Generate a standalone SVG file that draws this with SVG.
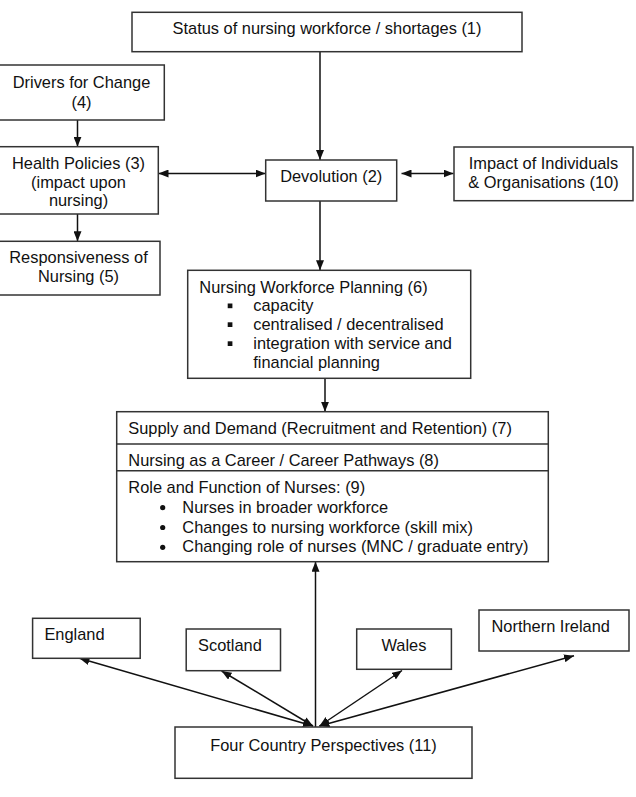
<svg xmlns="http://www.w3.org/2000/svg" width="636" height="797" viewBox="0 0 636 797">
<style>
.box{fill:#fff;stroke:#333;stroke-width:1.5}
.t{font-family:"Liberation Sans",Arial,sans-serif;font-size:16.4px;fill:#111}
.c{text-anchor:middle}
.conn{stroke:#111;stroke-width:1.5;fill:none}
.end{marker-end:url(#ah)}
.both{marker-end:url(#ah);marker-start:url(#ah)}
.sq{fill:#111}
</style>
<defs>
<marker id="ah" viewBox="0 0 10 8" refX="10" refY="4" markerWidth="10" markerHeight="8" markerUnits="userSpaceOnUse" orient="auto-start-reverse">
<path d="M0,0 L10,4 L0,8 z" fill="#111"/>
</marker>
</defs>
<rect width="636" height="797" fill="#fff"/>

<g id="connectors">
<line class="conn end" x1="320" y1="52" x2="320" y2="160"/>
<line class="conn end" x1="77.5" y1="120" x2="77.5" y2="146.7"/>
<line class="conn end" x1="77.5" y1="214" x2="77.5" y2="241.3"/>
<line class="conn both" x1="158.5" y1="173.5" x2="265.5" y2="173.5"/>
<line class="conn both" x1="401.5" y1="173.5" x2="453.5" y2="173.5"/>
<line class="conn end" x1="320" y1="201" x2="320" y2="270.3"/>
<line class="conn end" x1="325" y1="378.3" x2="325" y2="411.7"/>
<line class="conn end" x1="315.5" y1="727" x2="315.5" y2="561.7"/>
<line class="conn both" x1="313" y1="726" x2="79.5" y2="658.3"/>
<line class="conn both" x1="313" y1="726" x2="221.6" y2="671"/>
<line class="conn both" x1="319.5" y1="726" x2="402" y2="670.5"/>
<line class="conn both" x1="319.5" y1="726" x2="574" y2="655.7"/>
</g>

<g id="n1">
<rect class="box" x="132" y="12.3" width="390" height="39.4"/>
<text class="t c" x="327" y="34.3">Status of nursing workforce / shortages (1)</text>
</g>

<g id="n4">
<rect class="box" x="-1" y="65" width="165.3" height="55"/>
<text class="t c" x="81.5" y="87.7">Drivers for Change</text>
<text class="t c" x="81.5" y="107.5">(4)</text>
</g>

<g id="n3">
<rect class="box" x="-1" y="146.7" width="159.3" height="67.3"/>
<text class="t c" x="78.5" y="169">Health Policies (3)</text>
<text class="t c" x="78.5" y="187.6">(impact upon</text>
<text class="t c" x="78.5" y="206">nursing)</text>
</g>

<g id="n5">
<rect class="box" x="-1" y="241.3" width="161" height="53.7"/>
<text class="t c" x="78.5" y="263.3">Responsiveness of</text>
<text class="t c" x="78.5" y="281.8">Nursing (5)</text>
</g>

<g id="n2">
<rect class="box" x="265.7" y="160" width="131" height="41"/>
<text class="t c" x="331.2" y="181.5">Devolution (2)</text>
</g>

<g id="n10">
<rect class="box" x="454" y="147" width="179" height="53.7"/>
<text class="t c" x="543.5" y="169">Impact of Individuals</text>
<text class="t c" x="543.5" y="188">&amp; Organisations (10)</text>
</g>

<g id="n6">
<rect class="box" x="187.7" y="270.3" width="283" height="108"/>
<text class="t" x="199.3" y="292.6">Nursing Workforce Planning (6)</text>
<rect class="sq" x="227.7" y="303.5" width="4.7" height="4.7"/>
<text class="t" x="253.3" y="311">capacity</text>
<rect class="sq" x="227.7" y="322.3" width="4.7" height="4.7"/>
<text class="t" x="253.3" y="329.8">centralised / decentralised</text>
<rect class="sq" x="227.7" y="341.3" width="4.7" height="4.7"/>
<text class="t" x="253.3" y="348.8">integration with service and</text>
<text class="t" x="253.3" y="367.5">financial planning</text>
</g>

<g id="n7-9">
<rect class="box" x="116.7" y="411.7" width="431.6" height="150"/>
<line x1="116.7" y1="444" x2="548.3" y2="444" stroke="#333" stroke-width="1.5"/>
<line x1="116.7" y1="470.7" x2="548.3" y2="470.7" stroke="#333" stroke-width="1.5"/>
<text class="t" x="128.3" y="434">Supply and Demand (Recruitment and Retention) (7)</text>
<text class="t" x="128.3" y="465.6">Nursing as a Career / Career Pathways (8)</text>
<text class="t" x="128.3" y="492.7">Role and Function of Nurses: (9)</text>
<circle class="sq" cx="162.7" cy="507.7" r="2.6"/>
<text class="t" x="182.3" y="512.7">Nurses in broader workforce</text>
<circle class="sq" cx="162.7" cy="527.5" r="2.6"/>
<text class="t" x="182.3" y="532.5">Changes to nursing workforce (skill mix)</text>
<circle class="sq" cx="162.7" cy="547.3" r="2.6"/>
<text class="t" x="182.3" y="552.3">Changing role of nurses (MNC / graduate entry)</text>
</g>

<g id="england">
<rect class="box" x="32.6" y="618.3" width="107.6" height="40"/>
<text class="t" x="44.4" y="640">England</text>
</g>

<g id="scotland">
<rect class="box" x="186.2" y="629" width="94.3" height="41.7"/>
<text class="t" x="198" y="650.7">Scotland</text>
</g>

<g id="wales">
<rect class="box" x="356.7" y="629" width="94.7" height="40.3"/>
<text class="t" x="381.5" y="650.7">Wales</text>
</g>

<g id="nireland">
<rect class="box" x="479" y="610" width="150" height="41"/>
<text class="t" x="491.5" y="631.7">Northern Ireland</text>
</g>

<g id="n11">
<rect class="box" x="175" y="727" width="297" height="51.3"/>
<text class="t c" x="323.5" y="750.7">Four Country Perspectives (11)</text>
</g>
</svg>
